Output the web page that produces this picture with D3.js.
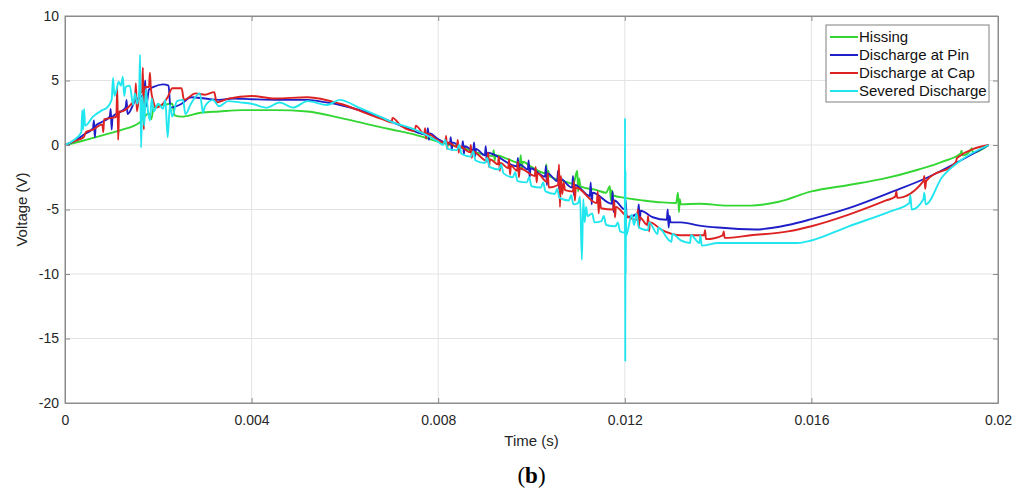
<!DOCTYPE html>
<html>
<head>
<meta charset="utf-8">
<script src="https://cdn.jsdelivr.net/npm/d3@7"></script>
<style>
  body { margin: 0; background: #fff; }
  svg { display: block; font-family: "Liberation Sans", Arial, sans-serif; }
</style>
</head>
<body>
<div id="chart"></div>
<script>
// ---- data (time in s, voltage in V) ----
const seriesNames = ["Hissing", "Discharge at Pin", "Discharge at Cap", "Severed Discharge"];
const seriesColors = ["#33d633", "#1f1fc8", "#dd2222", "#22e6ee"];
const xTicks = [0, 0.004, 0.008, 0.012, 0.016, 0.02];
const xTickLabels = ["0", "0.004", "0.008", "0.012", "0.016", "0.02"];
const yTicks = [10, 5, 0, -5, -10, -15, -20];
const yTickLabels = ["10", "5", "0", "-5", "-10", "-15", "-20"];

const hissing = [[0,0],[0.0004,0.35],[0.0008,0.75],[0.0012,1.15],[0.0016,1.75],[0.0018,2.45],[0.00185,2.0],[0.0019,2.9],
  [0.0021,3.1],[0.0023,3.2],[0.00235,2.3],[0.0025,2.2],[0.0029,2.5],[0.0033,2.6],[0.0038,2.7],[0.0045,2.7],[0.0052,2.6],
  [0.0059,2.1],[0.0065,1.6],[0.007,1.2],[0.0075,0.8],[0.008,0.25],[0.0085,-0.2],[0.00917,-0.85],[0.00919,-0.4],
  [0.00921,-1.2],[0.00923,-0.8],[0.0095,-1.1],[0.00975,-1.4],[0.00977,-0.8],[0.00979,-1.9],[0.00981,-1.3],[0.01,-1.7],
  [0.0103,-2.2],[0.01032,-1.5],[0.01034,-2.8],[0.01036,-2.0],[0.01038,-2.4],[0.0107,-2.8],[0.0109,-3.0],[0.01098,-2.0],
  [0.011,-3.6],[0.01102,-2.6],[0.01105,-3.2],[0.0114,-3.5],[0.0116,-3.7],[0.01168,-3.2],[0.0117,-4.3],[0.01172,-3.5],
  [0.01175,-3.9],[0.012,-4.1],[0.0124,-4.3],[0.0128,-4.45],[0.0131,-4.5],[0.01314,-3.7],[0.01316,-5.2],[0.01318,-4.2],
  [0.0132,-4.6],[0.0136,-4.55],[0.0142,-4.7],[0.0147,-4.7],[0.0153,-4.4],[0.016,-3.6],[0.0168,-3.1],[0.0175,-2.65],
  [0.0183,-1.9],[0.0188,-1.3],[0.0192,-0.65],[0.01922,-0.45],[0.01924,-0.8],[0.0194,-0.45],[0.01944,-0.25],[0.01946,-0.6],
  [0.0198,0]];

const dischargePin = [[0,0],[0.0002,0.3],[0.0004,0.8],[0.0006,1.3],[0.00062,1.9],[0.00064,0.6],[0.00066,1.5],[0.0008,1.8],
  [0.00096,2.2],[0.00098,2.8],[0.001,1.2],[0.00102,2.2],[0.0012,2.6],[0.0013,2.9],[0.00132,3.5],[0.00134,2.4],[0.0015,3.4],
  [0.0017,4.0],[0.00172,5.0],[0.00174,3.0],[0.0018,4.3],[0.0019,4.5],[0.0021,4.7],[0.00222,4.6],[0.00226,2.9],[0.0025,3.2],
  [0.0027,3.7],[0.003,3.6],[0.0033,3.5],[0.0036,3.6],[0.004,3.55],[0.0046,3.5],[0.0052,3.5],[0.0056,3.3],[0.0059,3.1],
  [0.0065,2.5],[0.007,1.8],[0.0074,1.2],[0.00776,0.8],[0.00778,1.3],[0.0078,0.4],[0.00782,0.9],[0.008,0.45],
  [0.00825,0.1],[0.00827,0.6],[0.00829,-0.4],[0.00831,0.2],[0.00851,-0.2],[0.00853,0.3],[0.00855,-0.7],[0.00857,-0.1],
  [0.00875,-0.4],[0.00877,0.2],[0.00879,-0.9],[0.00881,-0.3],[0.009,-0.8],[0.00902,-0.1],[0.00904,-1.3],[0.00906,-0.6],
  [0.00969,-1.65],[0.00971,-1.0],[0.00973,-2.2],[0.00975,-1.5],[0.00992,-1.9],[0.00994,-1.2],[0.00996,-2.5],[0.00998,-1.8],
  [0.01029,-2.45],[0.01031,-1.6],[0.01033,-3.1],[0.01035,-2.2],[0.01055,-2.8],[0.01057,-2.0],[0.01059,-3.4],[0.01061,-2.6],
  [0.01087,-3.3],[0.01089,-2.4],[0.01091,-3.9],[0.01093,-3.1],[0.01125,-3.95],[0.01127,-2.9],[0.01129,-4.6],[0.01131,-3.7],
  [0.01172,-4.55],[0.01174,-3.6],[0.01176,-5.2],[0.01178,-4.3],[0.012,-5.0],[0.01202,-4.3],[0.01204,-5.6],[0.01228,-5.3],
  [0.0123,-4.6],[0.01232,-5.9],[0.01234,-5.1],[0.0126,-5.6],[0.0129,-5.8],[0.01292,-5.0],[0.01294,-6.4],[0.01296,-5.5],
  [0.01298,-6.0],[0.0132,-6.0],[0.0136,-6.25],[0.014,-6.4],[0.0148,-6.55],[0.0155,-6.2],[0.016,-5.75],[0.0168,-4.9],
  [0.01775,-3.6],[0.0185,-2.5],[0.0192,-1.2],[0.0198,0]];

const dischargeCap = [[0,0],[0.0002,0.3],[0.0004,0.6],[0.00045,1.0],[0.0006,1.2],[0.0008,1.6],[0.00082,1.0],[0.00084,2.0],
  [0.001,2.1],[0.0011,2.2],[0.00112,4.5],[0.00114,0.4],[0.00116,2.6],[0.0012,2.6],[0.0014,3.1],[0.0015,3.6],[0.00152,4.8],
  [0.00154,2.6],[0.0016,4.0],[0.00165,4.1],[0.00167,6.0],[0.00169,1.2],[0.00171,4.5],[0.0018,4.5],[0.00182,5.6],[0.00184,4.4],
  [0.0019,3.3],[0.00195,2.9],[0.0021,3.2],[0.0022,3.7],[0.0023,4.4],[0.0025,4.4],[0.00255,3.5],[0.0028,4.0],[0.003,3.9],
  [0.0032,4.1],[0.00325,3.3],[0.0035,3.6],[0.004,3.8],[0.0045,3.6],[0.0052,3.7],[0.0059,3.2],[0.0065,2.4],[0.0068,2.0],
  [0.007,1.75],[0.00702,2.1],[0.0072,1.5],[0.0075,1.1],[0.00752,1.5],[0.0077,0.85],[0.00772,1.3],[0.00774,0.5],
  [0.00776,0.9],[0.008,0.35],[0.00815,0.15],[0.00817,0.7],[0.00819,-0.3],[0.00821,0.2],[0.0084,-0.15],[0.00842,0.4],
  [0.00844,-0.6],[0.00846,-0.1],[0.00868,-0.55],[0.0087,0.0],[0.00872,-1.0],[0.00874,-0.5],[0.00905,-1.25],[0.00907,-0.6],
  [0.00909,-1.7],[0.00911,-1.1],[0.00928,-1.5],[0.0093,-0.9],[0.00932,-2.0],[0.00934,-1.4],[0.0095,-1.8],[0.00952,-1.1],
  [0.00954,-2.3],[0.00956,-1.6],[0.00969,-2.0],[0.00971,-1.3],[0.00973,-2.5],[0.00975,-1.8],[0.01007,-2.4],[0.01009,-1.7],
  [0.01011,-2.9],[0.01013,-2.2],[0.01033,-2.85],[0.01035,-2.2],[0.01037,-3.3],[0.01057,-3.1],[0.01059,-1.5],[0.01061,-4.8],
  [0.01063,-2.4],[0.01066,-3.8],[0.01069,-2.9],[0.01072,-3.5],[0.01089,-3.6],[0.01091,-2.8],[0.01093,-4.3],[0.01095,-3.3],
  [0.0114,-4.5],[0.01142,-3.6],[0.01144,-5.3],[0.01146,-4.0],[0.01149,-4.9],[0.01175,-5.0],[0.01177,-4.3],[0.01179,-5.6],
  [0.01181,-4.8],[0.012,-5.4],[0.01226,-5.8],[0.01228,-5.0],[0.0123,-6.4],[0.01232,-5.6],[0.01248,-6.2],[0.0125,-5.5],
  [0.01252,-6.7],[0.01254,-6.0],[0.0128,-6.6],[0.0132,-7.0],[0.0137,-7.0],[0.01372,-6.6],[0.01374,-7.3],[0.0141,-7.0],
  [0.01412,-6.7],[0.01414,-7.2],[0.0147,-7.0],[0.0155,-6.7],[0.016,-6.3],[0.0168,-5.4],[0.0176,-4.3],[0.0178,-4.0],
  [0.01782,-3.6],[0.01784,-4.1],[0.0184,-2.8],[0.01842,-2.4],[0.01844,-3.4],[0.01846,-2.8],[0.0191,-1.3],[0.01912,-1.0],
  [0.0198,0]];

const severed = [[0,0],[0.0002,0.4],[0.00035,1.0],[0.00037,2.7],[0.00039,1.2],[0.00041,2.8],[0.00043,1.5],[0.0006,2.2],
  [0.0008,2.7],[0.0009,2.9],[0.001,3.5],[0.00103,5.2],[0.00106,3.8],[0.0011,4.2],[0.00115,4.9],[0.0012,4.6],[0.00124,5.3],
  [0.00127,3.8],[0.0013,4.5],[0.00139,4.6],[0.00146,3.1],[0.0015,4.0],[0.00155,3.2],[0.00159,4.2],[0.00161,7.0],
  [0.00163,-0.2],[0.00166,3.8],[0.0017,1.5],[0.00173,4.3],[0.00178,2.6],[0.00182,1.9],[0.00186,3.6],[0.0019,2.6],
  [0.002,3.2],[0.0021,2.8],[0.00215,3.5],[0.0022,0.6],[0.00225,3.1],[0.0023,2.2],[0.0024,3.4],[0.00253,3.5],[0.00258,2.4],
  [0.0027,3.2],[0.00289,4.0],[0.00296,2.5],[0.003,3.0],[0.00317,3.5],[0.0033,3.0],[0.0035,3.4],[0.00375,3.3],[0.004,3.2],
  [0.00433,2.9],[0.0046,3.3],[0.00489,2.9],[0.0052,3.4],[0.00562,3.1],[0.00589,3.5],[0.0063,2.9],[0.00675,2.2],[0.007,1.8],
  [0.0075,1.2],[0.008,0.25],[0.0081,0.0],[0.00815,0.4],[0.0082,-0.3],[0.0084,-0.4],[0.00845,0.0],[0.0085,-0.7],
  [0.0087,-0.9],[0.00875,-0.5],[0.0088,-1.2],[0.009,-1.4],[0.00905,-1.0],[0.0091,-1.7],[0.0093,-1.9],[0.00935,-1.5],
  [0.0094,-2.2],[0.0096,-2.5],[0.00965,-2.1],[0.0097,-2.8],[0.0099,-2.9],[0.00995,-2.5],[0.01,-3.2],[0.0102,-3.3],
  [0.01025,-2.9],[0.0103,-3.6],[0.0105,-3.8],[0.01055,-3.4],[0.0106,-4.1],[0.0108,-4.3],[0.01085,-3.9],[0.0109,-4.6],
  [0.011,-4.5],[0.01104,-4.0],[0.01108,-8.9],[0.01111,-4.2],[0.01114,-6.0],[0.01117,-4.8],[0.0112,-5.5],[0.0113,-5.3],
  [0.01135,-6.0],[0.0115,-5.9],[0.01155,-5.5],[0.0116,-6.2],[0.0118,-6.3],[0.01185,-6.0],[0.0119,-6.7],[0.012,-6.8],
  [0.012005,2.1],[0.01201,-16.8],[0.012015,-2.0],[0.01202,-10.0],[0.012025,-5.0],[0.01203,-7.0],[0.01215,-5.4],
  [0.0122,-6.2],[0.01225,-5.3],[0.0123,-6.4],[0.0125,-6.6],[0.01252,-6.0],[0.0127,-6.9],[0.01272,-6.4],[0.013,-7.5],
  [0.01302,-6.9],[0.0132,-7.4],[0.0134,-7.6],[0.01342,-7.0],[0.0136,-7.6],[0.01362,-7.0],[0.01365,-7.8],[0.014,-7.6],
  [0.015,-7.6],[0.0157,-7.6],[0.016,-7.4],[0.0168,-6.3],[0.01765,-5.2],[0.0181,-4.5],[0.01812,-3.9],[0.01815,-5.0],
  [0.0184,-4.2],[0.01842,-3.7],[0.01845,-4.6],[0.0188,-2.5],[0.0192,-1.2],[0.0198,0]];

const allSeries = [hissing, dischargePin, dischargeCap, severed];

// ---- layout ----
const W = 1030, H = 499;
const margin = {top: 16, right: 32, bottom: 96, left: 65};
const width = W - margin.left - margin.right;
const height = H - margin.top - margin.bottom;

const svg = d3.select("#chart").append("svg")
  .attr("width", W)
  .attr("height", H);

const g = svg.append("g")
  .attr("transform", `translate(${margin.left},${margin.top})`);

const x = d3.scaleLinear().domain([0, 0.02]).range([0, width]);
const y = d3.scaleLinear().domain([-20, 10]).range([height, 0]);

// grid
g.append("g")
  .selectAll("line")
  .data(xTicks.slice(1, -1))
  .enter().append("line")
  .attr("x1", d => x(d)).attr("x2", d => x(d))
  .attr("y1", 0).attr("y2", height)
  .attr("stroke", "#e3e3e3").attr("stroke-width", 1);

g.append("g")
  .selectAll("line")
  .data(yTicks.slice(1, -1))
  .enter().append("line")
  .attr("x1", 0).attr("x2", width)
  .attr("y1", d => y(d)).attr("y2", d => y(d))
  .attr("stroke", "#e3e3e3").attr("stroke-width", 1);

// lines
const line = d3.line()
  .curve(d3.curveMonotoneX)
  .x(d => x(d[0]))
  .y(d => y(d[1]));

g.append("g")
  .selectAll("path.series")
  .data(allSeries)
  .enter().append("path")
  .attr("class", "series")
  .attr("d", line)
  .attr("fill", "none")
  .attr("stroke", (d, i) => seriesColors[i])
  .attr("stroke-width", 1.9)
  .attr("stroke-linejoin", "round");

// axes (MATLAB style: ticks inside, box all around)
const axisColor = "#8c8c8c";
g.append("g")
  .attr("transform", `translate(0,${height})`)
  .call(d3.axisBottom(x).tickValues(xTicks).tickFormat((d, i) => xTickLabels[i]).tickSizeInner(-5).tickSizeOuter(0).tickPadding(12));
g.append("g")
  .call(d3.axisLeft(y).tickValues(yTicks).tickFormat((d, i) => yTickLabels[i]).tickSizeInner(-5).tickSizeOuter(0).tickPadding(6));
g.append("g")
  .call(d3.axisTop(x).tickValues(xTicks).tickFormat("").tickSizeInner(-5).tickSizeOuter(0));
g.append("g")
  .attr("transform", `translate(${width},0)`)
  .call(d3.axisRight(y).tickValues(yTicks).tickFormat("").tickSizeInner(-5).tickSizeOuter(0));

g.selectAll(".domain").attr("stroke", axisColor);
g.selectAll(".tick line").attr("stroke", axisColor);
g.selectAll(".tick text")
  .attr("fill", "#262626")
  .style("font-size", "14px");

g.append("rect")
  .attr("x", 0).attr("y", 0)
  .attr("width", width).attr("height", height)
  .attr("fill", "none").attr("stroke", axisColor);

// axis titles
svg.append("text")
  .attr("x", margin.left + width / 2)
  .attr("y", 446)
  .attr("text-anchor", "middle")
  .attr("fill", "#262626")
  .style("font-size", "15px")
  .text("Time (s)");

svg.append("text")
  .attr("transform", `translate(27,${margin.top + height / 2}) rotate(-90)`)
  .attr("text-anchor", "middle")
  .attr("fill", "#262626")
  .style("font-size", "15px")
  .text("Voltage (V)");

const sub = svg.append("text")
  .attr("x", margin.left + width / 2)
  .attr("y", 483)
  .attr("text-anchor", "middle")
  .attr("fill", "#000")
  .style("font-family", "'Liberation Serif', 'Times New Roman', serif")
  .style("font-size", "23px");
sub.append("tspan").text("(");
sub.append("tspan").attr("font-weight", "bold").text("b");
sub.append("tspan").text(")");

// legend
const legend = svg.append("g").attr("transform", "translate(826,25)");
legend.append("rect")
  .attr("width", 163).attr("height", 77)
  .attr("fill", "#fff").attr("stroke", "#808080");
const items = legend.selectAll("g.item")
  .data(seriesNames)
  .enter().append("g")
  .attr("transform", (d, i) => `translate(0,${12 + i * 18})`);
items.append("line")
  .attr("x1", 4).attr("x2", 32)
  .attr("stroke", (d, i) => seriesColors[i]).attr("stroke-width", 2);
items.append("text")
  .attr("x", 33).attr("dy", "0.35em")
  .attr("fill", "#111")
  .style("font-size", "15px")
  .text(d => d);
</script>
</body>
</html>
